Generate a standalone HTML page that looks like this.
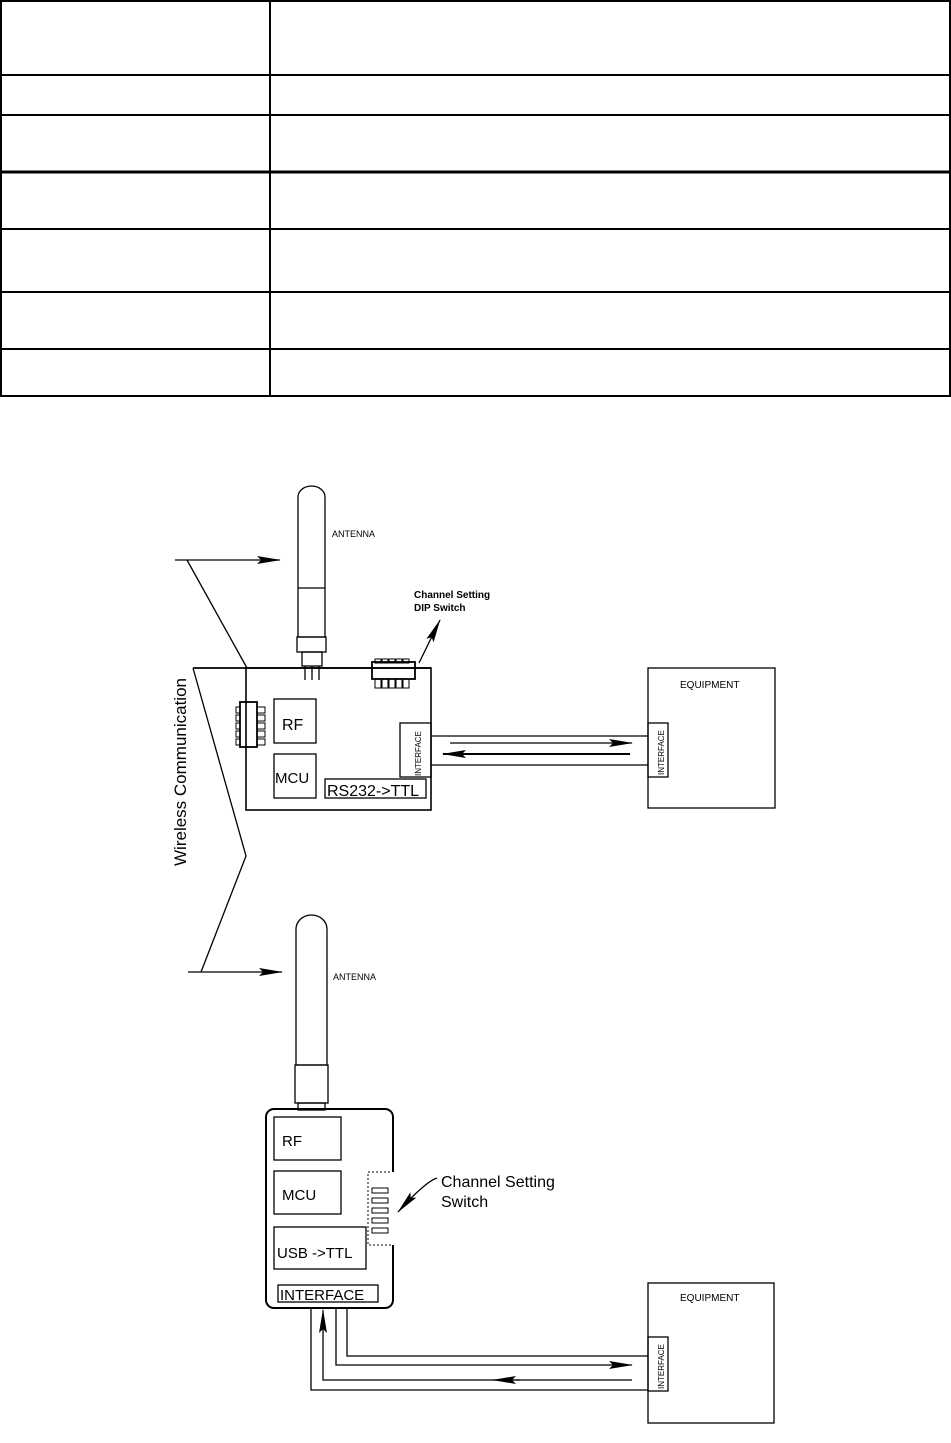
<!DOCTYPE html>
<html><head><meta charset="utf-8"><style>
html,body{margin:0;padding:0;background:#fff;}
svg{display:block;}
text{font-family:"Liberation Sans",sans-serif;fill:#000;}
</style></head><body>
<svg width="951" height="1443" viewBox="0 0 951 1443" xmlns="http://www.w3.org/2000/svg">
<defs>
<marker id="ah" markerWidth="24" markerHeight="8" refX="23" refY="4" orient="auto" markerUnits="userSpaceOnUse"><path d="M0,0 L24,4 L0,8 L4,4 Z" fill="#000"/></marker>
</defs>
<g stroke="#000" stroke-width="2" fill="none">
<rect x="1" y="1" width="949" height="395"/>
<line x1="270" y1="1" x2="270" y2="396"/>
<line x1="1" y1="75" x2="950" y2="75"/>
<line x1="1" y1="115" x2="950" y2="115"/>
<line x1="1" y1="172" x2="950" y2="172" stroke-width="3"/>
<line x1="1" y1="229" x2="950" y2="229"/>
<line x1="1" y1="292" x2="950" y2="292"/>
<line x1="1" y1="349" x2="950" y2="349"/>
</g>

<g stroke="#000" fill="none" stroke-width="1.3">
<line x1="175" y1="560" x2="280" y2="560" marker-end="url(#ah)"/>
<line x1="187" y1="560" x2="247" y2="668"/>
<polyline points="193,668 246,856 201,972"/>
<line x1="188" y1="972" x2="282" y2="972" marker-end="url(#ah)"/>

<path d="M298,637 V497 A13.5,11 0 0 1 325,497 V637 Z"/>
<line x1="298" y1="588" x2="325" y2="588"/>
<rect x="297" y="637" width="29" height="15"/>
<rect x="302" y="652" width="20" height="14"/>
<line x1="305" y1="666" x2="305" y2="680"/><line x1="312" y1="666" x2="312" y2="680"/><line x1="319" y1="666" x2="319" y2="680"/>

<line x1="193" y1="668" x2="431" y2="668" stroke-width="1.8"/>
<rect x="246" y="668" width="185" height="142" stroke-width="1.6"/>
<rect x="372" y="662" width="43" height="17" stroke-width="1.8"/>
<g stroke-width="1">
<rect x="375" y="659" width="6" height="4"/><rect x="382" y="659" width="6" height="4"/><rect x="389" y="659" width="6" height="4"/><rect x="396" y="659" width="6" height="4"/><rect x="403" y="659" width="6" height="4"/>
<rect x="375" y="679" width="6" height="9"/><rect x="382" y="679" width="6" height="9"/><rect x="389" y="679" width="6" height="9"/><rect x="396" y="679" width="6" height="9"/><rect x="403" y="679" width="6" height="9"/>
</g>
<line x1="419" y1="663" x2="440" y2="620" marker-end="url(#ah)" />
<rect x="240" y="702" width="17" height="45" stroke-width="1.8"/>
<g stroke-width="1">
<rect x="236" y="707" width="4" height="6"/><rect x="236" y="715" width="4" height="6"/><rect x="236" y="723" width="4" height="6"/><rect x="236" y="731" width="4" height="6"/><rect x="236" y="739" width="4" height="6"/>
<rect x="257" y="707" width="8" height="6"/><rect x="257" y="715" width="8" height="6"/><rect x="257" y="723" width="8" height="6"/><rect x="257" y="731" width="8" height="6"/><rect x="257" y="739" width="8" height="6"/>
</g>
<rect x="274" y="699" width="42" height="44"/>
<rect x="274" y="754" width="42" height="44"/>
<rect x="325" y="779" width="101" height="19"/>
<rect x="400" y="723" width="31" height="54"/>
<line x1="431" y1="736" x2="648" y2="736"/>
<line x1="431" y1="765" x2="648" y2="765"/>
<line x1="450" y1="743" x2="632" y2="743" marker-end="url(#ah)"/>
<line x1="630" y1="754" x2="443" y2="754" marker-end="url(#ah)" stroke-width="2"/>
<rect x="648" y="668" width="127" height="140"/>
<rect x="648" y="723" width="20" height="54"/>

<path d="M296,1065 V929 A15.5,14 0 0 1 327,929 V1065 Z"/>
<rect x="295" y="1065" width="33" height="38"/>
<rect x="298" y="1103" width="27" height="7"/>
<rect x="266" y="1109" width="127" height="199" rx="8" stroke-width="2"/>
<rect x="274" y="1117" width="67" height="43"/>
<rect x="274" y="1171" width="67" height="43"/>
<rect x="274" y="1227" width="92" height="42"/>
<rect x="278" y="1285" width="100" height="17"/>
<rect x="368" y="1172" width="25" height="73" stroke-dasharray="2,2" stroke-width="1"/>
<line x1="393" y1="1172" x2="393" y2="1245" stroke="#fff" stroke-width="2"/>
<g stroke-width="1">
<rect x="372" y="1188" width="16" height="5"/><rect x="372" y="1198" width="16" height="5"/><rect x="372" y="1208" width="16" height="5"/><rect x="372" y="1218" width="16" height="5"/><rect x="372" y="1228" width="16" height="5"/>
</g>
<path d="M437,1178 Q425,1182 398,1212" marker-end="url(#ah)"/>
<polyline points="347,1308 347,1356 648,1356"/>
<polyline points="336,1308 336,1365 632,1365" marker-end="url(#ah)"/>
<polyline points="632,1380 323,1380 323,1310" marker-end="url(#ah)"/>
<line x1="520" y1="1380" x2="493" y2="1380" marker-end="url(#ah)"/>
<polyline points="311,1308 311,1390 648,1390"/>
<rect x="648" y="1283" width="126" height="140"/>
<rect x="648" y="1337" width="20" height="54"/>
</g>

<text x="332" y="537" font-size="9">ANTENNA</text>
<text x="414" y="598" font-size="10" font-weight="bold">Channel Setting</text>
<text x="414" y="611" font-size="10" font-weight="bold">DIP Switch</text>
<text x="282" y="730" font-size="16">RF</text>
<text x="275" y="783" font-size="15">MCU</text>
<text x="327" y="796" font-size="16">RS232-&gt;TTL</text>
<text transform="translate(421,776) rotate(-90)" font-size="8">INTERFACE</text>
<text x="680" y="688" font-size="10">EQUIPMENT</text>
<text transform="translate(664,775) rotate(-90)" font-size="8">INTERFACE</text>
<text transform="translate(186,866) rotate(-90)" font-size="17">Wireless Communication</text>
<text x="333" y="980" font-size="9">ANTENNA</text>
<text x="282" y="1146" font-size="15">RF</text>
<text x="282" y="1200" font-size="15">MCU</text>
<text x="277" y="1258" font-size="15">USB -&gt;TTL</text>
<text x="280" y="1300" font-size="15">INTERFACE</text>
<text x="441" y="1187" font-size="16">Channel Setting</text>
<text x="441" y="1207" font-size="16">Switch</text>
<text x="680" y="1301" font-size="10">EQUIPMENT</text>
<text transform="translate(664,1389) rotate(-90)" font-size="8">INTERFACE</text>
</svg>
</body></html>
